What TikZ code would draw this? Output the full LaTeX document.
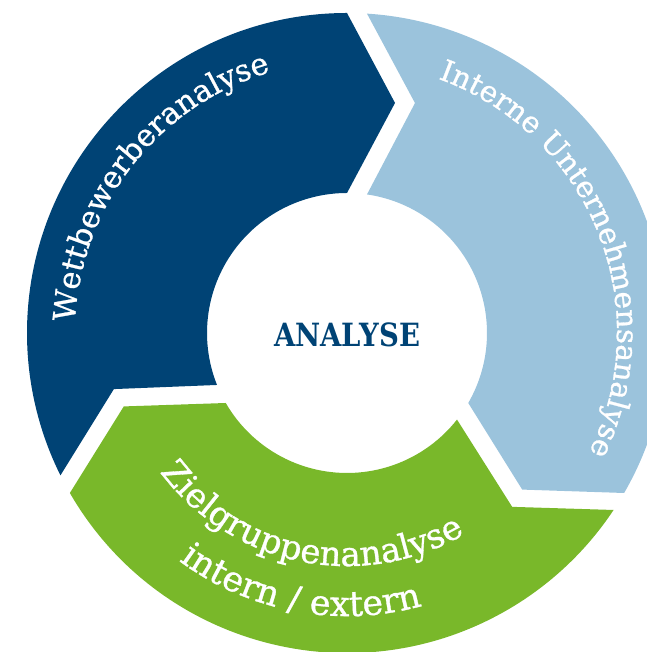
\documentclass[tikz,border=0pt]{standalone}
\usepackage{fontspec}
\setmainfont{DejaVu Serif}
\usetikzlibrary{decorations.text}

\definecolor{wbblue}{RGB}{0,67,117}
\definecolor{iublue}{RGB}{155,195,220}
\definecolor{zggreen}{RGB}{121,184,42}

\newcommand{\ringfont}[1]{\fontsize{#1}{#1}\selectfont\addfontfeature{FakeBold=0.9}}

\tikzset{
	ringtext/.style={decorate, decoration={text along path, text align=center, text color=white}},
}

\begin{document}
\begin{tikzpicture}[x=1pt,y=1pt]
	\useasboundingbox (0,0) rectangle (646,652);

\begin{scope}[shift={(347,319)}]

% Segmente
	\foreach \s/\e/\col in {210/90/wbblue, 90/-30/iublue, -30/-150/zggreen}
		\fill[fill=\col] ({\s-3.58}:320pt) -- ({\s-16.47}:239.8pt) -- ({\s-8.21}:140pt)
			arc[start angle=\s-8.21, end angle=\e, radius=140pt] -- ({\e-11.79}:235pt) -- (\e:320pt)
			arc[start angle=\e, end angle=\s-3.58, radius=320pt] -- cycle;

% Beschriftung
	\path[ringtext, decoration={text={|\ringfont{30.5}|Wettbewerberanalyse}}]
		(202:272pt) arc[start angle=202, end angle=82, radius=272pt];

	\path[ringtext, decoration={text={|\ringfont{29.5}|Interne Unternehmensanalyse}}]
		(97:270pt) arc[start angle=97, end angle=-53, radius=270pt];

	\path[ringtext, decoration={text={|\ringfont{34}|Zielgruppenanalyse}}]
		(188:233pt) arc[start angle=188, end angle=329, radius=233pt];

	\path[ringtext, decoration={text={|\ringfont{35}|intern / extern}}]
		(199:283pt) arc[start angle=199, end angle=320, radius=283pt];

	\node[text=wbblue, font=\bfseries\fontsize{32}{32}\selectfont] (analyse) at (0,-2) {\scalebox{0.86}[1]{ANALYSE}};

\end{scope}
\end{tikzpicture}
\end{document}
